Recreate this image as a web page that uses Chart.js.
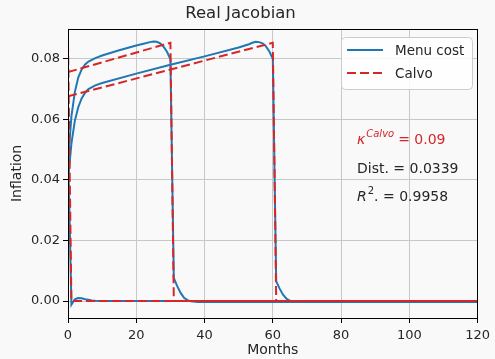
<!DOCTYPE html>
<html>
<head>
<meta charset="utf-8">
<script src="https://cdn.jsdelivr.net/npm/chart.js@4.4.1/dist/chart.umd.min.js"></script>
<style>
  body { margin: 0; background: #f9f9f9; }
  canvas { display: block; }
</style>
</head>
<body>
<canvas id="myChart" width="495" height="359"></canvas>
<script>
// values (months after the shock, inflation)
const menu0Months = [0, 1, 2, 3, 4, 5, 6, 7, 8, 10, 120];
const menu0Values = [0.052, -0.0012, 0.0006, 0.0010, 0.0009, 0.0006, 0.0004, 0.0002, 0.0001, 0, 0];

const menu30Months = [0, 1, 2, 3, 4, 5, 6, 8, 10, 15, 20, 23, 24, 25, 26, 27, 28, 29, 30, 31, 32, 33, 34, 35, 36, 38, 120];
const menu30Values = [0.046, 0.061, 0.069, 0.0738, 0.0765, 0.0781, 0.0791, 0.0802, 0.0811, 0.0828, 0.0844, 0.0852, 0.0855, 0.0857, 0.0856, 0.0851, 0.0840, 0.0823, 0.0799, 0.0076, 0.0049, 0.0027, 0.0011, 0.0003, -0.0001, -0.0003, -0.0003];

const menu60Months = [0, 1, 2, 3, 4, 5, 6, 8, 10, 20, 30, 40, 50, 53, 54, 55, 56, 57, 58, 59, 60, 61, 62, 63, 64, 65, 66, 68, 120];
const menu60Values = [0.040, 0.052, 0.0595, 0.0640, 0.0669, 0.0688, 0.0700, 0.0712, 0.0720, 0.0751, 0.0780, 0.0808, 0.0837, 0.0848, 0.0853, 0.0856, 0.0855, 0.0851, 0.0841, 0.0824, 0.0800, 0.0065, 0.0041, 0.0021, 0.0008, 0.0001, -0.0002, -0.0003, -0.0003];

const calvo0Months = [0, 1, 120];
const calvo0Values = [0.0853, 0, 0];
const calvo30Months = [0, 30, 31, 120];
const calvo30Values = [0.0756, 0.0853, 0, 0];
const calvo60Months = [0, 60, 61, 120];
const calvo60Values = [0.0676, 0.0853, 0, 0];

const xTickValues = [0, 20, 40, 60, 80, 100, 120];
const yTickValues = [0, 0.02, 0.04, 0.06, 0.08];

const legendLabels = ['Menu cost', 'Calvo'];
const kappaValue = '0.09';
const distValue = '0.0339';
const r2Value = '0.9958';

const FONT = "'DejaVu Sans', sans-serif";
const BLUE = '#1f77b4';
const RED = '#d62728';
const TEXT = '#262626';
const GRID = '#c8c8c8';

function toPoints(xs, ys) {
    return xs.map((x, i) => ({ x: x, y: ys[i] }));
}

function calvoSet(xs, ys) {
    return {
        data: toPoints(xs, ys),
        borderColor: RED,
        borderWidth: 2,
        borderDash: [9, 4],
        pointRadius: 0,
        tension: 0
    };
}

function menuSet(xs, ys) {
    return {
        data: toPoints(xs, ys),
        borderColor: BLUE,
        borderWidth: 2,
        pointRadius: 0,
        tension: 0
    };
}

// frame, legend box and the text in the plot
const extras = {
    id: 'extras',
    afterDraw(chart) {
        const ctx = chart.ctx;
        const a = chart.chartArea;
        ctx.save();

        ctx.strokeStyle = '#000';
        ctx.lineWidth = 1;
        ctx.strokeRect(Math.round(a.left) + 0.5, Math.round(a.top) + 0.5,
            Math.round(a.right - a.left) - 1, Math.round(a.bottom - a.top));

        // legend
        const lx = 341, ly = 37, lw = 131, lh = 52;
        ctx.beginPath();
        ctx.roundRect(lx + 0.5, ly + 0.5, lw, lh, 4);
        ctx.fillStyle = 'rgba(255,255,255,0.85)';
        ctx.fill();
        ctx.strokeStyle = '#cccccc';
        ctx.stroke();

        ctx.lineWidth = 2;
        ctx.strokeStyle = BLUE;
        ctx.beginPath();
        ctx.moveTo(347, 50);
        ctx.lineTo(383, 50);
        ctx.stroke();
        ctx.strokeStyle = RED;
        ctx.setLineDash([9, 4]);
        ctx.beginPath();
        ctx.moveTo(347, 73);
        ctx.lineTo(383, 73);
        ctx.stroke();
        ctx.setLineDash([]);

        ctx.fillStyle = TEXT;
        ctx.font = '13.5px ' + FONT;
        ctx.textBaseline = 'middle';
        ctx.textAlign = 'left';
        ctx.fillText(legendLabels[0], 395, 51);
        ctx.fillText(legendLabels[1], 395, 74);

        // annotations
        ctx.textBaseline = 'alphabetic';
        let x = 357;
        ctx.fillStyle = RED;
        ctx.font = 'italic 14px ' + FONT;
        ctx.fillText('\u03ba', x, 144);
        x += ctx.measureText('\u03ba').width + 1;
        ctx.font = 'italic 10px ' + FONT;
        ctx.fillText('Calvo', x, 137);
        x += ctx.measureText('Calvo').width + 4;
        ctx.font = '14px ' + FONT;
        ctx.fillText('= ' + kappaValue, x, 144);

        ctx.fillStyle = TEXT;
        ctx.fillText('Dist. = ' + distValue, 357, 173);

        x = 357;
        ctx.font = 'italic 14px ' + FONT;
        ctx.fillText('R', x, 201);
        x += ctx.measureText('R').width + 1;
        ctx.font = '10px ' + FONT;
        ctx.fillText('2', x, 194);
        x += ctx.measureText('2').width;
        ctx.font = '14px ' + FONT;
        ctx.fillText('. = ' + r2Value, x, 201);

        ctx.restore();
    }
};

const ctx = document.getElementById('myChart');
new Chart(ctx, {
    type: 'line',
    data: {
        datasets: [
            calvoSet(calvo0Months, calvo0Values),
            calvoSet(calvo30Months, calvo30Values),
            calvoSet(calvo60Months, calvo60Values),
            menuSet(menu0Months, menu0Values),
            menuSet(menu30Months, menu30Values),
            menuSet(menu60Months, menu60Values)
        ]
    },
    options: {
        responsive: false,
        animation: false,
        devicePixelRatio: 1,
        layout: { padding: { left: 0, right: 14, top: 0, bottom: 0 } },
        plugins: {
            legend: { display: false },
            tooltip: { enabled: false },
            title: {
                display: true,
                text: 'Real Jacobian',
                color: TEXT,
                font: { family: FONT, size: 16.5, weight: 'normal' },
                padding: { top: 4, bottom: 5 }
            }
        },
        scales: {
            x: {
                type: 'linear',
                min: 0,
                max: 120,
                afterBuildTicks: (scale) => { scale.ticks = xTickValues.map(v => ({ value: v })); },
                afterFit: (scale) => { scale.height = 41; },
                grid: { color: GRID, tickColor: '#000', tickLength: 5, lineWidth: 1 },
                border: { display: false },
                ticks: {
                    color: TEXT,
                    padding: 5,
                    maxRotation: 0,
                    font: { family: FONT, size: 13 },
                    callback: (v) => String(v)
                },
                title: {
                    display: true,
                    text: 'Months',
                    color: TEXT,
                    font: { family: FONT, size: 14 },
                    padding: { top: 0, bottom: 0 }
                }
            },
            y: {
                min: -0.0056,
                max: 0.0899,
                afterBuildTicks: (scale) => { scale.ticks = yTickValues.map(v => ({ value: v })); },
                afterFit: (scale) => { scale.width = 68; },
                grid: { color: GRID, tickColor: '#000', tickLength: 5, lineWidth: 1 },
                border: { display: false },
                ticks: {
                    color: TEXT,
                    padding: 3,
                    font: { family: FONT, size: 13 },
                    callback: (v) => Number(v).toFixed(2)
                },
                title: {
                    display: true,
                    text: 'Inflation',
                    color: TEXT,
                    font: { family: FONT, size: 14 },
                    padding: { top: 9, bottom: 0 }
                }
            }
        }
    },
    plugins: [extras]
});
</script>
</body>
</html>
